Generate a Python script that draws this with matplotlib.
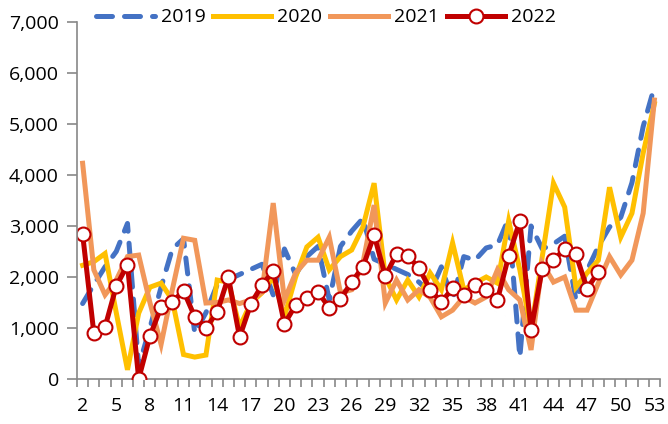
import matplotlib.pyplot as plt
from matplotlib.ticker import FixedLocator, FuncFormatter

# weekly values, weeks 2..53
weeks = list(range(2, 54))

y2019 = [1480, 1850, 2200, 2500, 3050, 250, 1000, 1800, 2550, 2750,
         900, 1300, 1850, 1950, 2050, 2150, 2250, 1650, 2550, 2050,
         2400, 2600, 1550, 2600, 2900, 3150, 2350, 2250, 2150, 2050,
         1900, 1700, 2200, 1550, 2400, 2330, 2570, 2630, 3150, 430,
         3000, 2550, 2650, 2800, 1550, 2130, 2600, 2980, 3170, 3850,
         4950, 5730]

y2020 = [2230, 2300, 2460, 1300, 180, 1290, 1800, 1880, 1550, 480,
         430, 470, 1940, 1900, 1020, 1490, 1690, 2000, 1220, 2000,
         2590, 2780, 2140, 2400, 2530, 2980, 3840, 2000, 1550, 1940,
         1610, 2080, 1750, 2670, 1750, 1880, 2000, 1880, 3100, 2140,
         950, 2400, 3840, 3370, 1800, 2080, 2330, 3760, 2780, 3250,
         4430, 5400]

y2021 = [4230, 2140, 1650, 1940, 2400, 2430, 1500, 680, 1750, 2760,
         2720, 1490, 1500, 1550, 1480, 1550, 1700, 3450, 1550, 2080,
         2330, 2330, 2780, 1690, 1750, 2270, 3410, 1490, 1940, 1550,
         1750, 1600, 1220, 1350, 1610, 1490, 1610, 2140, 1750, 1550,
         570, 2270, 1900, 2000, 1350, 1350, 1880, 2400, 2040, 2330,
         3250, 5470]

y2022 = [2840, 900, 1020, 1820, 2240, 0, 840, 1410, 1510, 1730,
         1220, 1000, 1310, 2000, 820, 1470, 1840, 2120, 1080, 1450,
         1590, 1710, 1390, 1570, 1900, 2200, 2820, 2020, 2450, 2410,
         2180, 1750, 1510, 1780, 1650, 1840, 1750, 1550, 2410, 3100,
         960, 2160, 2330, 2550, 2450, 1770, 2100]

plt.rcParams["font.family"] = ["Open Sans", "DejaVu Sans"]

fig = plt.figure(figsize=(6.68, 4.24), dpi=100)
ax = fig.add_axes([0.1153, 0.1061, 0.8727, 0.842])

pos = list(range(len(weeks)))
lw = 3.6
ax.plot(pos, y2019, color="#4472C4", lw=lw, linestyle=(0, (3.2, 2.4)),
        dash_capstyle="round", label="2019")
ax.plot(pos, y2020, color="#FFC000", lw=lw, solid_joinstyle="miter", label="2020")
ax.plot(pos, y2021, color="#F1975A", lw=lw, solid_joinstyle="miter", label="2021")
ax.plot(pos[:len(y2022)], y2022, color="#C00000", lw=lw, marker="o", ms=10,
        mfc="white", mec="#C00000", mew=1.5, label="2022")

ax.set_xlim(-0.5, len(weeks) - 0.5)
ax.set_ylim(0, 7000)

# category labels every 3rd week, tick marks between categories
lab_pos = pos[::3]
ax.xaxis.set_major_locator(FixedLocator(lab_pos))
ax.set_xticklabels([str(weeks[i]) for i in lab_pos])
ax.xaxis.set_minor_locator(FixedLocator([p - 0.5 for p in pos] + [pos[-1] + 0.5]))
ax.tick_params(axis="x", which="major", length=0, pad=13, labelsize=14)
ax.tick_params(axis="x", which="minor", length=6, width=1.2, color="#888888")

ax.set_yticks(range(0, 7001, 1000))
ax.yaxis.set_major_formatter(FuncFormatter(lambda v, p: f"{int(v):,}"))
ax.tick_params(axis="y", length=7, width=1.2, color="#888888", pad=6, labelsize=14)

for s in ["top", "right"]:
    ax.spines[s].set_visible(False)
for s in ["left", "bottom"]:
    ax.spines[s].set_color("#888888")
    ax.spines[s].set_linewidth(1.2)
ax.spines["bottom"].set_zorder(0)

leg = ax.legend(ncol=4, loc="upper left", bbox_to_anchor=(0.02, 1.06),
                frameon=False, fontsize=14, handlelength=3.0,
                handletextpad=0.3, columnspacing=0.4, borderaxespad=0)

fig.savefig("out.png", dpi=100)
